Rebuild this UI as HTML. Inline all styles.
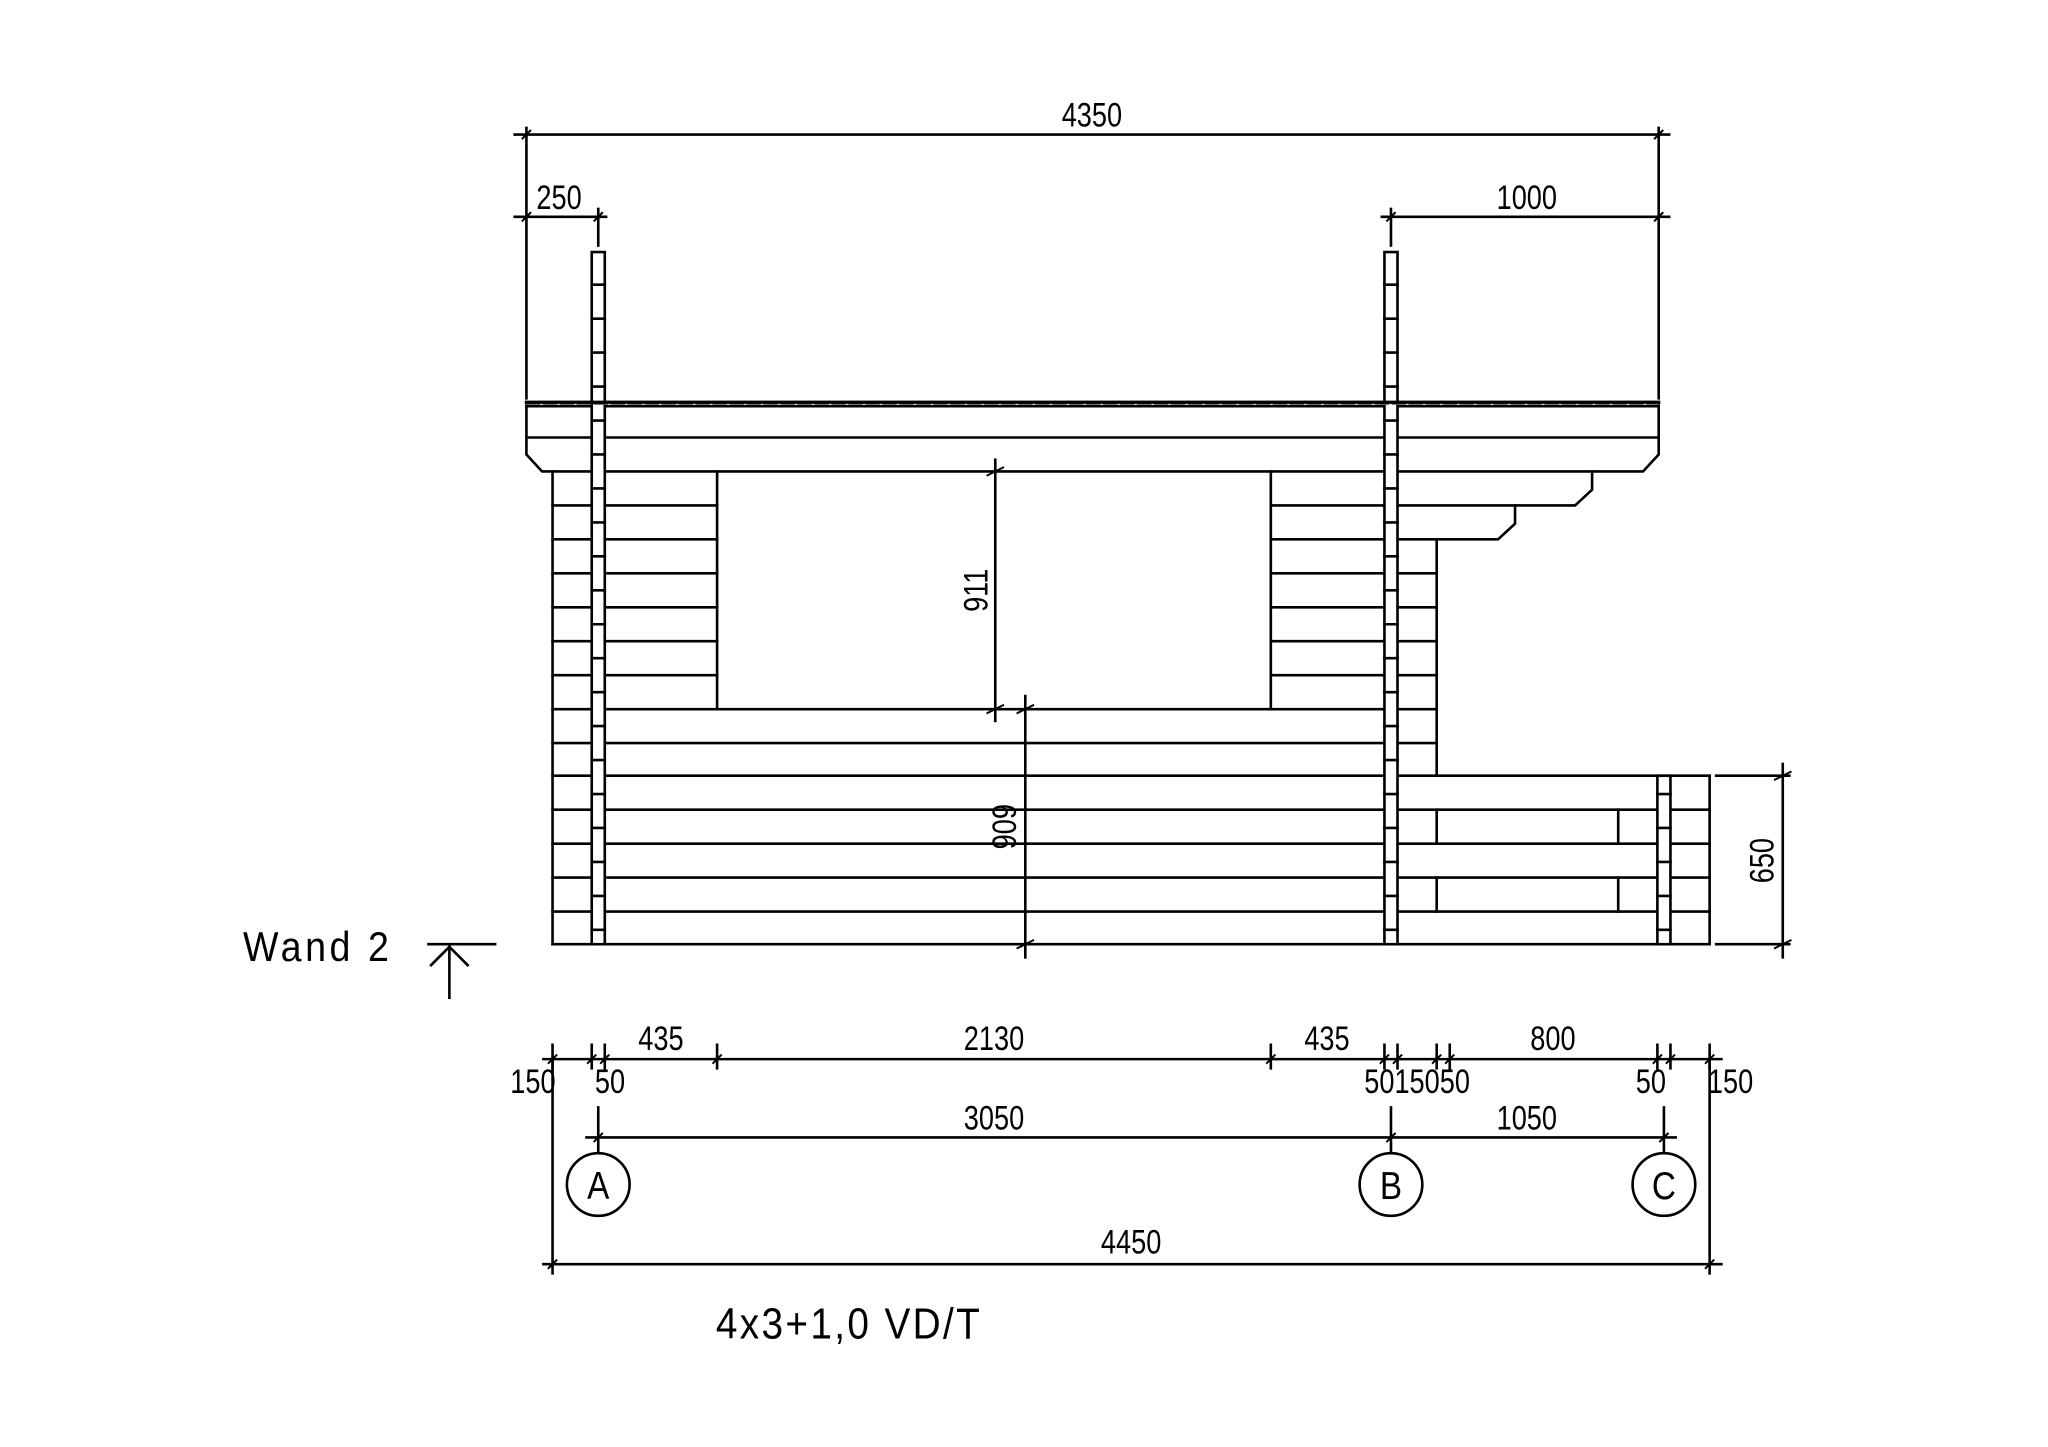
<!DOCTYPE html>
<html><head><meta charset="utf-8"><style>
html,body{margin:0;padding:0;background:#fff;}
svg{display:block;}
text{font-family:"Liberation Sans Narrow","Liberation Sans",sans-serif;fill:#000;}
</style></head><body>
<svg width="2048" height="1447" viewBox="0 0 1568 1108" xmlns="http://www.w3.org/2000/svg">
<rect width="1568" height="1108" fill="#fff"/>
<g stroke="#000" stroke-width="2" fill="none" stroke-linecap="square">
<path d="M403,308 L1270,308 L1270,348 L1258,361 L415,361 L403,348 Z" fill="#fff"/>
<line x1="403" y1="311" x2="1270" y2="311" stroke-width="2"/>
<line x1="403" y1="335" x2="1270" y2="335"/>
<path d="M1219,361 L1219,375 L1206,387 L1070,387"/>
<path d="M1160,387 L1160,401 L1147,413 L1070,413"/>
<line x1="423" y1="361" x2="423" y2="723"/>
<line x1="549" y1="361" x2="549" y2="543"/>
<line x1="973" y1="361" x2="973" y2="543"/>
<line x1="1100" y1="413" x2="1100" y2="594"/>
<line x1="1309" y1="594" x2="1309" y2="723"/>
<line x1="1100" y1="620" x2="1100" y2="646"/>
<line x1="1239" y1="620" x2="1239" y2="646"/>
<line x1="1100" y1="672" x2="1100" y2="698"/>
<line x1="1239" y1="672" x2="1239" y2="698"/>
<g>
<line x1="423" y1="387" x2="549" y2="387"/><line x1="423" y1="413" x2="549" y2="413"/>
<line x1="423" y1="439" x2="549" y2="439"/><line x1="423" y1="465" x2="549" y2="465"/>
<line x1="423" y1="491" x2="549" y2="491"/><line x1="423" y1="517" x2="549" y2="517"/>
<line x1="973" y1="387" x2="1070" y2="387"/><line x1="973" y1="413" x2="1070" y2="413"/>
<line x1="973" y1="439" x2="1100" y2="439"/><line x1="973" y1="465" x2="1100" y2="465"/>
<line x1="973" y1="491" x2="1100" y2="491"/><line x1="973" y1="517" x2="1100" y2="517"/>
<line x1="423" y1="543" x2="1100" y2="543"/>
<line x1="423" y1="569" x2="1100" y2="569"/>
<line x1="423" y1="594" x2="1309" y2="594"/>
<line x1="423" y1="620" x2="1309" y2="620"/>
<line x1="423" y1="646" x2="1309" y2="646"/>
<line x1="423" y1="672" x2="1309" y2="672"/>
<line x1="423" y1="698" x2="1309" y2="698"/>
<line x1="423" y1="723" x2="1309" y2="723"/>
</g>
<rect x="453" y="193" width="10" height="530" fill="#fff"/>
<rect x="1060" y="193" width="10" height="530" fill="#fff"/>
<rect x="1269" y="594" width="10" height="129" fill="#fff"/>
<path d="M453,218h10M453,244h10M453,270h10M453,296h10M453,322h10M453,348h10M453,374h10M453,400h10M453,426h10M453,452h10M453,478h10M453,504h10M453,530h10M453,556h10M453,582h10M453,608h10M453,634h10M453,660h10M453,686h10M453,712h10"/>
<path d="M1060,218h10M1060,244h10M1060,270h10M1060,296h10M1060,322h10M1060,348h10M1060,374h10M1060,400h10M1060,426h10M1060,452h10M1060,478h10M1060,504h10M1060,530h10M1060,556h10M1060,582h10M1060,608h10M1060,634h10M1060,660h10M1060,686h10M1060,712h10"/>
<path d="M1269,608h10M1269,634h10M1269,660h10M1269,686h10M1269,712h10"/>
<line x1="403" y1="309.5" x2="1270" y2="309.5" stroke-width="1" stroke="#666" stroke-dasharray="10,3"/>
<line x1="403" y1="308" x2="1270" y2="308" stroke-width="2.5"/>

<line x1="394" y1="103" x2="1278" y2="103"/>
<line x1="403" y1="98" x2="403" y2="305"/>
<line x1="1270" y1="98" x2="1270" y2="305"/>
<line x1="394" y1="166" x2="464" y2="166"/>
<line x1="458" y1="160" x2="458" y2="188"/>
<line x1="1058" y1="166" x2="1278" y2="166"/>
<line x1="1065" y1="160" x2="1065" y2="188"/>
<path d="M400,106l6,-6M1267,106l6,-6M400,169l6,-6M455,169l6,-6M1062,169l6,-6M1267,169l6,-6" stroke-width="1.5"/>

<line x1="762" y1="352" x2="762" y2="552"/>
<path d="M756,364l12,-6M756,546l12,-6" stroke-width="1.5"/>
<line x1="785" y1="533" x2="785" y2="733"/>
<path d="M779,546l12,-6M779,726l12,-6" stroke-width="1.5"/>
<line x1="1365" y1="585" x2="1365" y2="733"/>
<line x1="1314" y1="594" x2="1370" y2="594"/>
<line x1="1314" y1="723" x2="1370" y2="723"/>
<path d="M1359,597l12,-6M1359,726l12,-6" stroke-width="1.5"/>

<line x1="328" y1="723" x2="379" y2="723"/>
<line x1="344" y1="725" x2="344" y2="764"/>
<path d="M330,739 L344,725 L358,739"/>

<line x1="416" y1="811" x2="1318" y2="811"/>
<path d="M423,800v18M453,800v18M463,800v18M549,800v18M973,800v18M1060,800v18M1070,800v18M1100,800v18M1110,800v18M1269,800v18M1279,800v18M1309,800v18"/>
<path d="M420,814l6,-6M450,814l6,-6M460,814l6,-6M546,814l6,-6M970,814l6,-6M1057,814l6,-6M1067,814l6,-6M1097,814l6,-6M1107,814l6,-6M1266,814l6,-6M1276,814l6,-6M1306,814l6,-6" stroke-width="1.5"/>
<line x1="423" y1="811" x2="423" y2="975"/>
<line x1="1309" y1="811" x2="1309" y2="975"/>
<line x1="449" y1="871" x2="1283" y2="871"/>
<line x1="458" y1="848" x2="458" y2="883"/>
<line x1="1065" y1="848" x2="1065" y2="883"/>
<line x1="1274" y1="848" x2="1274" y2="883"/>
<path d="M455,874l6,-6M1062,874l6,-6M1271,874l6,-6" stroke-width="1.5"/>
<circle cx="458" cy="907" r="24"/>
<circle cx="1065" cy="907" r="24"/>
<circle cx="1274" cy="907" r="24"/>
<line x1="416" y1="968" x2="1318" y2="968"/>
<path d="M420,971l6,-6M1306,971l6,-6" stroke-width="1.5"/>
</g>

<g font-size="26" text-anchor="middle">
<text transform="translate(836,97) scale(0.8,1)">4350</text>
<text transform="translate(428,160) scale(0.8,1)">250</text>
<text transform="translate(1169,160) scale(0.8,1)">1000</text>
<text transform="translate(506,804) scale(0.8,1)">435</text>
<text transform="translate(761,804) scale(0.8,1)">2130</text>
<text transform="translate(1016,804) scale(0.8,1)">435</text>
<text transform="translate(1189,804) scale(0.8,1)">800</text>
<text transform="translate(408,837) scale(0.8,1)">150</text>
<text transform="translate(467,837) scale(0.8,1)">50</text>
<text transform="translate(1085,837) scale(0.8,1)">5015050</text>
<text transform="translate(1264,837) scale(0.8,1)">50</text>
<text transform="translate(1325,837) scale(0.8,1)">150</text>
<text transform="translate(761,865) scale(0.8,1)">3050</text>
<text transform="translate(1169,865) scale(0.8,1)">1050</text>
<text transform="translate(866,960) scale(0.8,1)">4450</text>
<text transform="translate(458,918) scale(0.85,1)" font-size="30">A</text>
<text transform="translate(1065,918) scale(0.85,1)" font-size="30">B</text>
<text transform="translate(1274,918) scale(0.85,1)" font-size="30">C</text>
<text transform="translate(756,452) rotate(-90) scale(0.8,1)">911</text>
<text transform="translate(778,633) rotate(-90) scale(0.8,1)">909</text>
<text transform="translate(1358,659) rotate(-90) scale(0.8,1)">650</text>
</g>
<text transform="translate(186,736) scale(0.9,1)" font-size="32" letter-spacing="3">Wand 2</text>
<text transform="translate(650,1025) scale(0.9,1)" font-size="33" text-anchor="middle" letter-spacing="2">4x3+1,0 VD/T</text>
</svg>
</body></html>
